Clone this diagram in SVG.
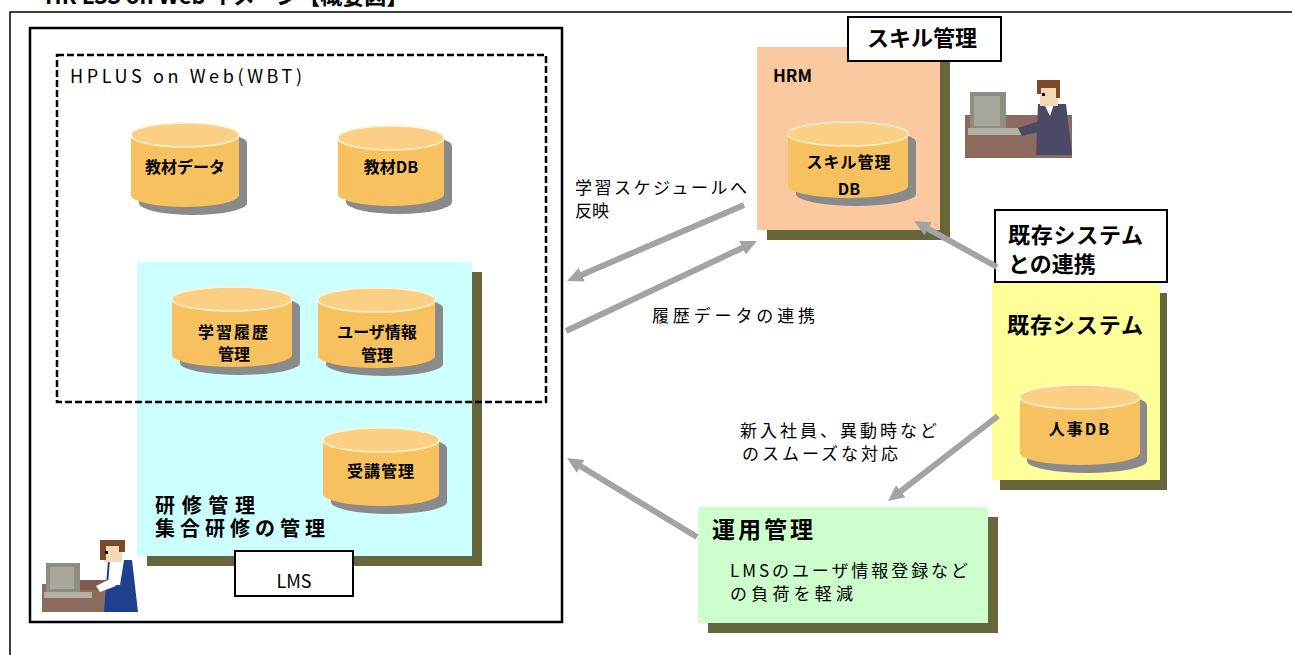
<svg xmlns="http://www.w3.org/2000/svg" width="1292" height="655" viewBox="0 0 1292 655">
  <style>
    text { font-family: "Noto Sans CJK JP", "Noto Sans", sans-serif; fill: #000; }
    .title { font-size: 22px; font-weight: bold; }
    .lbl { font-size: 17px; }
    .db { font-size: 16px; font-weight: bold; }
    .head { font-size: 20px; font-weight: bold; }
    .shadow { fill: #66663a; }
    .cyl-sh { fill: #8a8a8a; }
    .cyl-body { fill: #f8c15f; }
    .cyl-top { fill: #fbd084; stroke: #fff3cf; stroke-width: 1.5; }
    .tag { fill: #fff; stroke: #000; stroke-width: 2; }
    .arrow { stroke: #a3a3a3; stroke-width: 6; fill: none; marker-end: url(#head); }
  </style>
  <defs>
    <marker id="head" markerUnits="userSpaceOnUse" markerWidth="16" markerHeight="15" viewBox="0 0 16 15" refX="3" refY="7.5" orient="auto">
      <path d="M0,0 L16,7.5 L0,15 Z" fill="#a3a3a3"/>
    </marker>
  </defs>

  <rect width="1292" height="655" fill="#fff"/>

  <!-- page heading (runs off the top edge) -->
  <text class="title" x="45" y="4">HR LSS on Web イメージ【概要図】</text>

  <!-- outer frame -->
  <path d="M1292,12 H10 V655" fill="none" stroke="#000" stroke-width="1.5"/>

  <!-- LMS -->
  <g id="lms">
    <rect x="30" y="28" width="532" height="594" fill="#fff" stroke="#000" stroke-width="2.5"/>
    <rect class="shadow" x="147" y="272" width="335" height="294"/>
    <rect x="137" y="262" width="335" height="294" fill="#ccffff"/>
    <text class="head" x="155" y="513" textLength="100" lengthAdjust="spacing">研修管理</text>
    <text class="head" x="155" y="536" textLength="170" lengthAdjust="spacing">集合研修の管理</text>
    <rect class="tag" x="235" y="551" width="118" height="45" stroke-width="1.5"/>
    <text x="294" y="588" font-size="18" text-anchor="middle">LMS</text>
  </g>

  <!-- HPLUS on Web (WBT) -->
  <g id="wbt">
    <rect x="57" y="55" width="489" height="347" fill="none" stroke="#000" stroke-width="2.5" stroke-dasharray="7 3"/>
    <text x="70" y="83" font-size="18" textLength="232" lengthAdjust="spacing">HPLUS on Web(WBT)</text>
  </g>

  <!-- databases -->
  <g id="db-kyozai-data">
    <path class="cyl-sh" transform="translate(8,8)" d="M131,135 A54,12 0 0 1 239,135 V195 A54,12 0 0 1 131,195 Z"/>
    <path class="cyl-body" d="M131,135 A54,12 0 0 1 239,135 V195 A54,12 0 0 1 131,195 Z"/>
    <ellipse class="cyl-top" cx="185" cy="135" rx="54" ry="12"/>
    <text class="db" x="185" y="173" text-anchor="middle">教材データ</text>
  </g>
  <g id="db-kyozai">
    <path class="cyl-sh" transform="translate(8,8)" d="M338,138 A53,12 0 0 1 444,138 V194 A53,12 0 0 1 338,194 Z"/>
    <path class="cyl-body" d="M338,138 A53,12 0 0 1 444,138 V194 A53,12 0 0 1 338,194 Z"/>
    <ellipse class="cyl-top" cx="391" cy="138" rx="53" ry="12"/>
    <text class="db" x="391" y="173" text-anchor="middle">教材DB</text>
  </g>
  <g id="db-rireki">
    <path class="cyl-sh" transform="translate(8,8)" d="M172,299 A60,12 0 0 1 292,299 V355 A60,12 0 0 1 172,355 Z"/>
    <path class="cyl-body" d="M172,299 A60,12 0 0 1 292,299 V355 A60,12 0 0 1 172,355 Z"/>
    <ellipse class="cyl-top" cx="232" cy="299" rx="60" ry="12"/>
    <text class="db" x="234" y="338" text-anchor="middle" font-size="17" letter-spacing="2">学習履歴</text>
    <text class="db" x="234" y="360" text-anchor="middle" font-size="17">管理</text>
  </g>
  <g id="db-user">
    <path class="cyl-sh" transform="translate(8,8)" d="M318,300 A58.5,12 0 0 1 435,300 V356 A58.5,12 0 0 1 318,356 Z"/>
    <path class="cyl-body" d="M318,300 A58.5,12 0 0 1 435,300 V356 A58.5,12 0 0 1 318,356 Z"/>
    <ellipse class="cyl-top" cx="376.5" cy="300" rx="58.5" ry="12"/>
    <text class="db" x="377" y="338" text-anchor="middle" font-size="17">ユーザ情報</text>
    <text class="db" x="377" y="361" text-anchor="middle" font-size="17">管理</text>
  </g>
  <g id="db-juko">
    <path class="cyl-sh" transform="translate(8,8)" d="M323,440 A58,12 0 0 1 439,440 V494 A58,12 0 0 1 323,494 Z"/>
    <path class="cyl-body" d="M323,440 A58,12 0 0 1 439,440 V494 A58,12 0 0 1 323,494 Z"/>
    <ellipse class="cyl-top" cx="381" cy="440" rx="58" ry="12"/>
    <text class="db" x="381" y="477" text-anchor="middle" letter-spacing="1">受講管理</text>
  </g>

  <!-- HRM -->
  <g id="hrm">
    <rect class="shadow" x="767" y="57" width="183" height="183"/>
    <rect x="757" y="47" width="183" height="183" fill="#fbc9a0"/>
    <text x="773" y="82" font-size="17" font-weight="bold">HRM</text>
    <path class="cyl-sh" transform="translate(8,8)" d="M788,134 A60,12 0 0 1 908,134 V186 A60,12 0 0 1 788,186 Z"/>
    <path class="cyl-body" d="M788,134 A60,12 0 0 1 908,134 V186 A60,12 0 0 1 788,186 Z"/>
    <ellipse class="cyl-top" cx="848" cy="134" rx="60" ry="12"/>
    <text class="db" x="849" y="168" text-anchor="middle" font-size="17" letter-spacing="1">スキル管理</text>
    <text class="db" x="849" y="195" text-anchor="middle" font-size="15">DB</text>
  </g>
  <g id="skill-tag">
    <rect class="tag" x="848" y="17" width="153" height="44"/>
    <text class="title" x="867" y="46" textLength="110" lengthAdjust="spacing">スキル管理</text>
  </g>

  <!-- existing system -->
  <g id="kizon-tag">
    <rect class="tag" x="995" y="210" width="172" height="72"/>
    <text class="title" x="1008" y="243" textLength="135" lengthAdjust="spacing">既存システム</text>
    <text class="title" x="1008" y="272">との連携</text>
  </g>
  <g id="kizon">
    <rect class="shadow" x="1000" y="293" width="167" height="197"/>
    <rect x="992" y="283" width="168" height="197" fill="#ffff99"/>
    <text class="title" x="1007" y="333" textLength="136" lengthAdjust="spacing">既存システム</text>
    <path class="cyl-sh" transform="translate(7,8)" d="M1020,397 A60,12 0 0 1 1140,397 V453 A60,12 0 0 1 1020,453 Z"/>
    <path class="cyl-body" d="M1020,397 A60,12 0 0 1 1140,397 V453 A60,12 0 0 1 1020,453 Z"/>
    <ellipse class="cyl-top" cx="1080" cy="397" rx="60" ry="12"/>
    <text class="db" x="1080" y="435" text-anchor="middle" letter-spacing="2">人事DB</text>
  </g>

  <!-- operations -->
  <g id="unyo">
    <rect class="shadow" x="708" y="517" width="290" height="116"/>
    <rect x="698" y="507" width="290" height="116" fill="#ccffcc"/>
    <text x="712" y="538" font-size="23" font-weight="bold" letter-spacing="3">運用管理</text>
    <text class="lbl" x="730" y="577" textLength="238" lengthAdjust="spacing">LMSのユーザ情報登録など</text>
    <text class="lbl" x="730" y="600" textLength="123" lengthAdjust="spacing">の負荷を軽減</text>
  </g>

  <!-- staff at terminals -->
  <g id="staff-lms">
    <rect x="42" y="584" width="80" height="28" fill="#8c6a5e"/>
    <rect x="46" y="563" width="34" height="30" fill="#8f8c80"/>
    <rect x="50" y="567" width="24" height="22" fill="#a9a79b"/>
    <rect x="44" y="592" width="48" height="6" fill="#b3b0a6"/>
    <path d="M80,580 H112 V590 H80 Z" fill="#7d5d52"/>
    <path d="M108,560 H132 L138,612 H104 Z" fill="#1f3f8f"/>
    <path d="M110,560 H124 L120,585 H108 Z" fill="#fff"/>
    <path d="M96,586 L112,578 L116,586 L100,592 Z" fill="#fff"/>
    <rect x="104" y="544" width="18" height="18" fill="#f6d8b8"/>
    <path d="M100,540 H125 V552 H119 V546 H106 V560 H100 Z" fill="#7a4a2a"/>
    <rect x="105" y="551" width="3" height="3" fill="#000"/>
  </g>
  <g id="staff-hrm">
    <rect x="965" y="115" width="107" height="43" fill="#8c6a5e"/>
    <rect x="970" y="92" width="36" height="40" fill="#8f8c80"/>
    <rect x="974" y="96" width="26" height="30" fill="#a9a79b"/>
    <rect x="968" y="128" width="60" height="7" fill="#b3b0a6"/>
    <path d="M1038,104 H1066 L1072,155 H1036 Z" fill="#4a4a66"/>
    <path d="M1044,104 H1054 L1050,116 Z" fill="#fff"/>
    <path d="M1018,128 L1042,120 L1046,130 L1022,136 Z" fill="#4a4a66"/>
    <rect x="1040" y="86" width="18" height="20" fill="#f6d8b8"/>
    <path d="M1037,80 H1060 V98 H1056 V88 H1041 V94 H1037 Z" fill="#7a4a2a"/>
    <rect x="1042" y="93" width="3" height="3" fill="#000"/>
  </g>

  <!-- connectors -->
  <g id="connectors">
    <line class="arrow" x1="744" y1="205" x2="579" y2="275.9"/>
    <line class="arrow" x1="566" y1="331" x2="745.2" y2="246.5"/>
    <line class="arrow" x1="997" y1="267" x2="925.4" y2="227.3"/>
    <line class="arrow" x1="998" y1="416" x2="898.3" y2="493.1"/>
    <line class="arrow" x1="697" y1="537" x2="578.1" y2="464.8"/>
  </g>

  <!-- connector labels -->
  <g id="labels">
    <text class="lbl" x="575" y="194" textLength="172" lengthAdjust="spacing">学習スケジュールへ</text>
    <text class="lbl" x="575" y="217">反映</text>
    <text class="lbl" x="652" y="322" textLength="163" lengthAdjust="spacing">履歴データの連携</text>
    <text class="lbl" x="740" y="437" textLength="197" lengthAdjust="spacing">新入社員、異動時など</text>
    <text class="lbl" x="742" y="460" textLength="156" lengthAdjust="spacing">のスムーズな対応</text>
  </g>
</svg>
